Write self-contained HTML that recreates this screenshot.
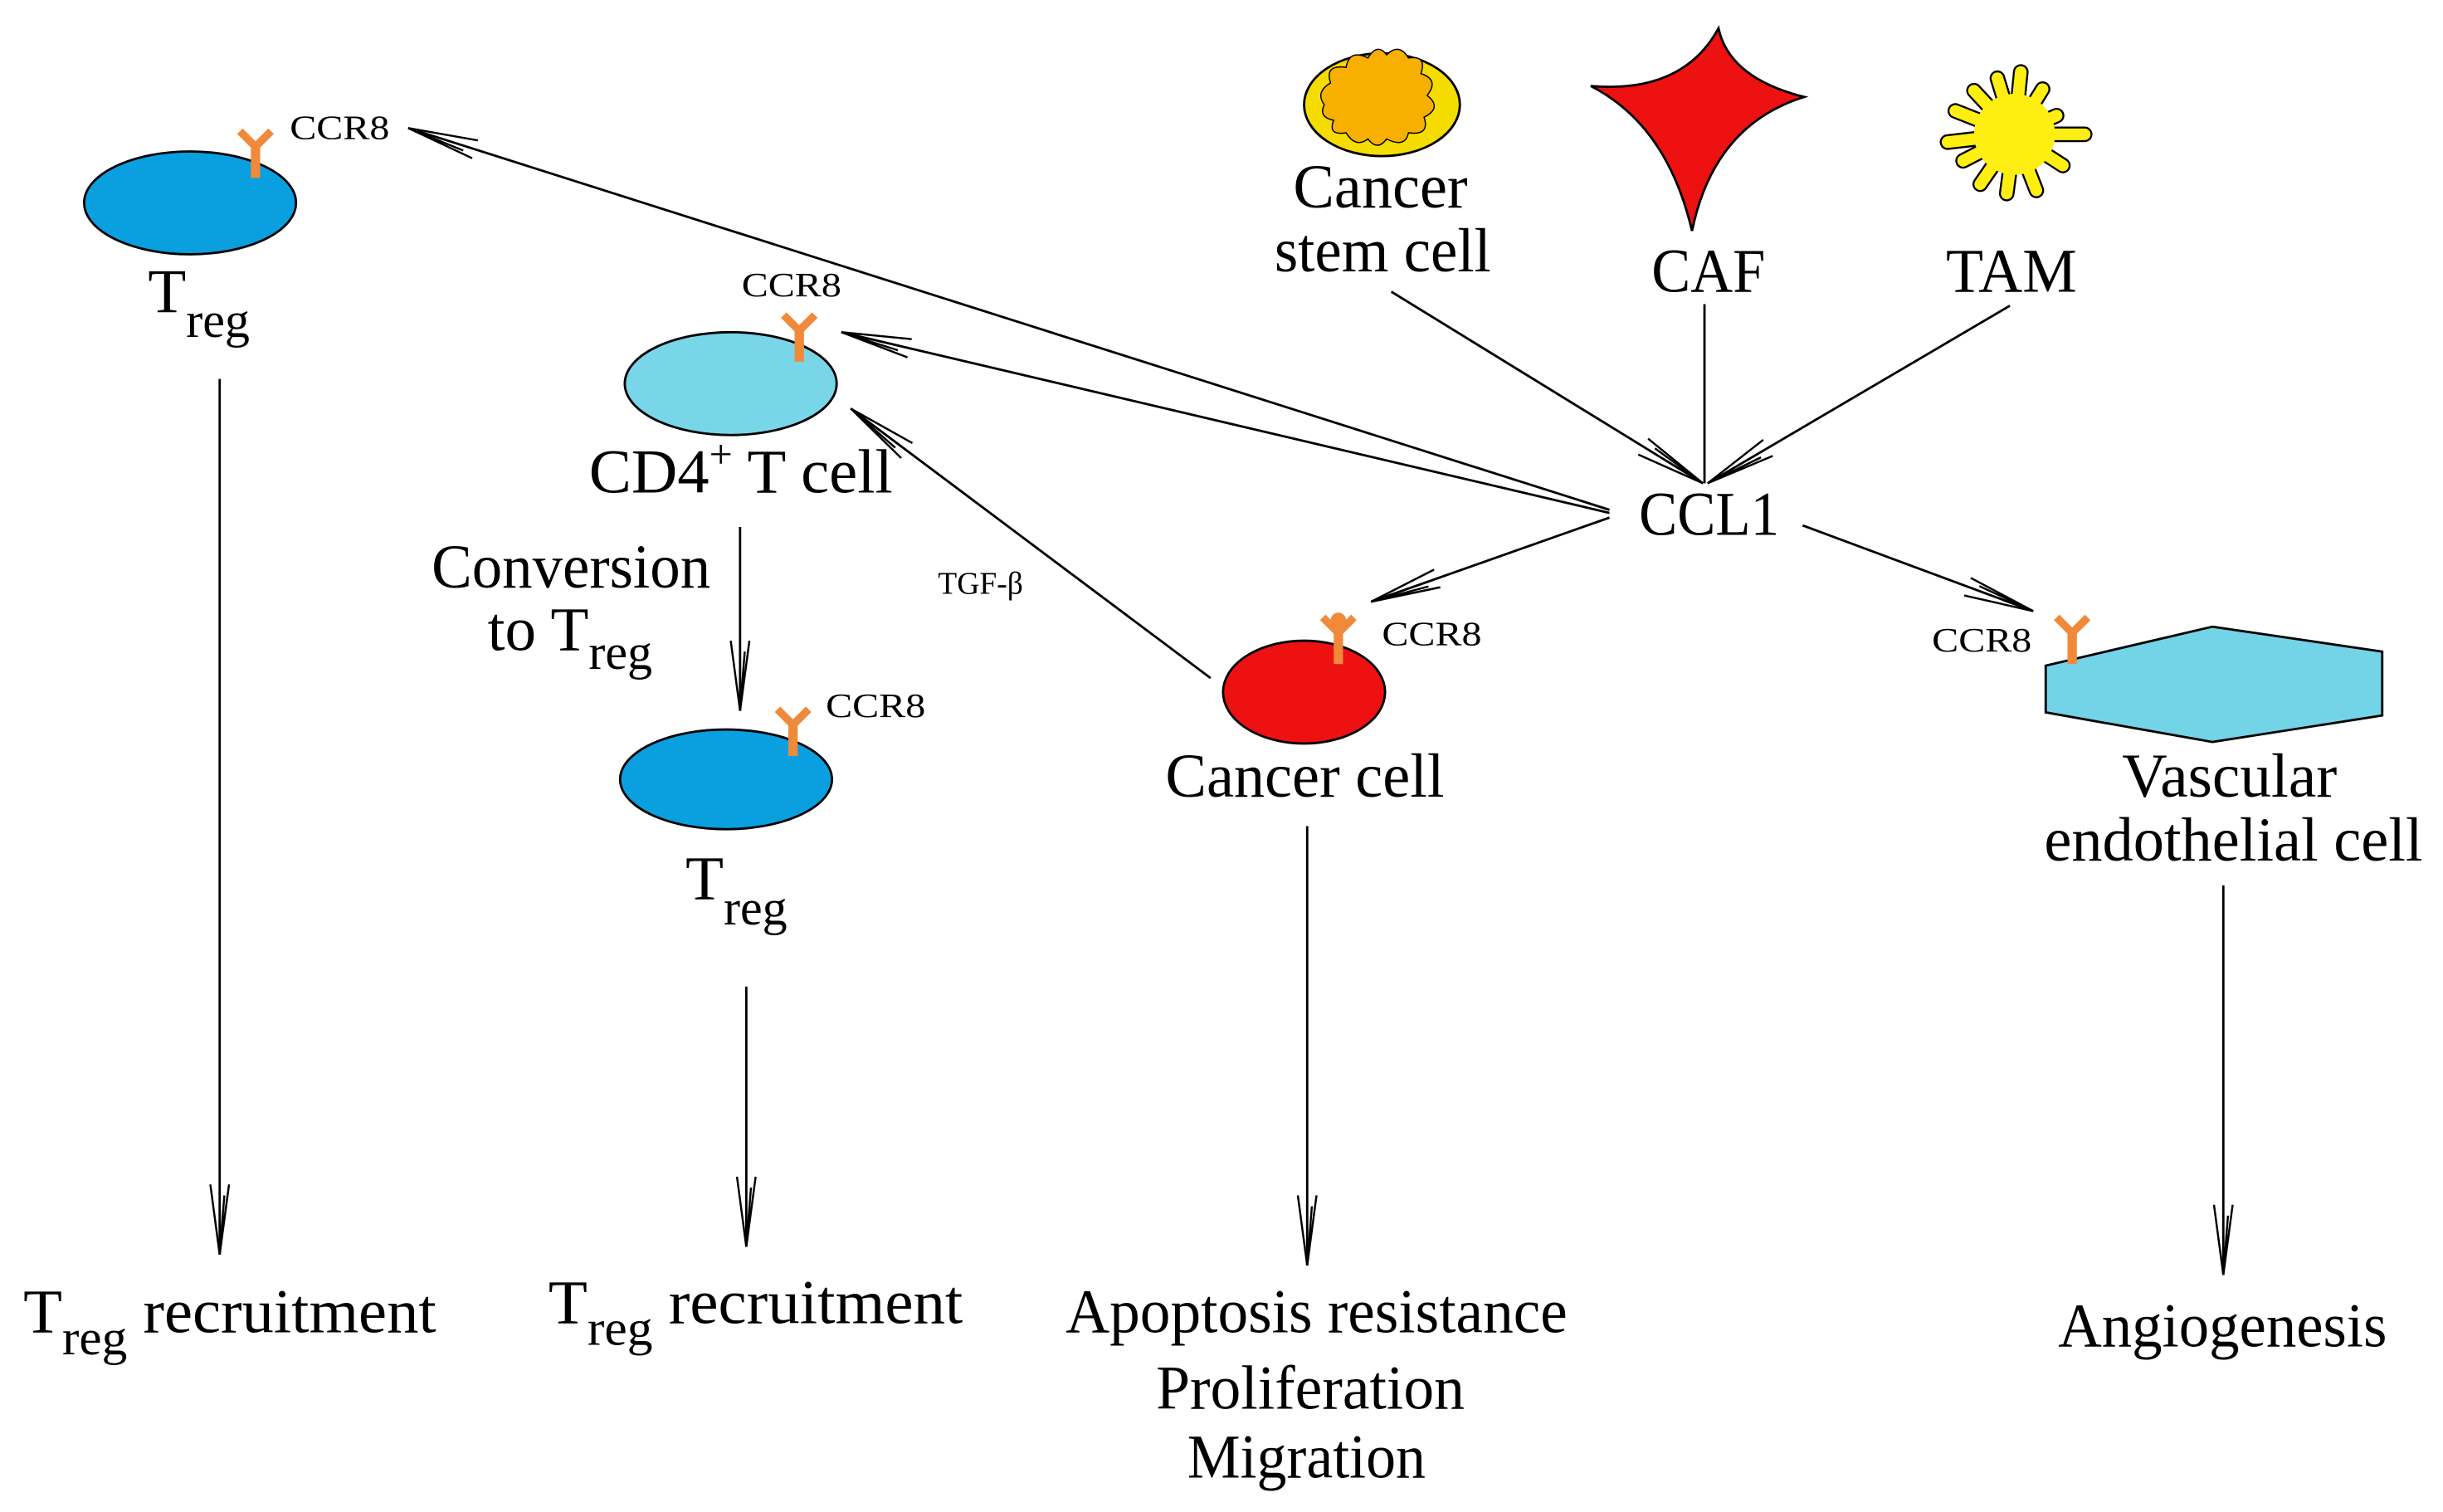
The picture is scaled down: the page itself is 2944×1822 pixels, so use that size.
<!DOCTYPE html>
<html><head><meta charset="utf-8"><style>
html,body{margin:0;padding:0;background:#fff}
svg{display:block}
text{font-family:"Liberation Serif",serif;fill:#000}
</style></head><body>
<svg width="2944" height="1822" viewBox="0 0 1568 970" xmlns="http://www.w3.org/2000/svg">
<defs>
<marker id="a" markerUnits="userSpaceOnUse" markerWidth="60" markerHeight="30" refX="0" refY="0" viewBox="-50 -15 60 30" orient="auto" overflow="visible">
<path d="M0,0 L-45,-6 M0,0 L-45,6 M0,0 L-38,-3" stroke="#000" stroke-width="1.3" fill="none"/>
</marker>
<g id="r"><rect x="-3" y="-6" width="6" height="22" fill="#f08a3a"/><path d="M-10,-14 L0,-4 L10,-14" stroke="#f08a3a" stroke-width="5" fill="none"/></g>
</defs>
<g stroke="#000" stroke-width="1.5" fill="none">
<line x1="893" y1="187" x2="1093" y2="310" marker-end="url(#a)"/>
<line x1="1094" y1="195" x2="1094" y2="310"/>
<line x1="1290" y1="196" x2="1096" y2="310" marker-end="url(#a)"/>
<line x1="1033" y1="327" x2="262" y2="82" marker-end="url(#a)"/>
<line x1="1033" y1="329" x2="540" y2="213" marker-end="url(#a)"/>
<line x1="777" y1="435" x2="546" y2="262" marker-end="url(#a)"/>
<line x1="1033" y1="332" x2="880" y2="386" marker-end="url(#a)"/>
<line x1="1157" y1="337" x2="1305" y2="392" marker-end="url(#a)"/>
<line x1="141" y1="243" x2="141" y2="805" marker-end="url(#a)"/>
<line x1="475" y1="338" x2="475" y2="456" marker-end="url(#a)"/>
<line x1="479" y1="633" x2="479" y2="800" marker-end="url(#a)"/>
<line x1="839" y1="530" x2="839" y2="812" marker-end="url(#a)"/>
<line x1="1427" y1="568" x2="1427" y2="818" marker-end="url(#a)"/>
</g>
<ellipse cx="122" cy="130" rx="68" ry="33" fill="#0a9fdf" stroke="#000" stroke-width="1.5"/>
<use href="#r" x="164" y="98"/>
<ellipse cx="469" cy="246" rx="68" ry="33" fill="#79d6e8" stroke="#000" stroke-width="1.5"/>
<use href="#r" x="513" y="216"/>
<ellipse cx="466" cy="500" rx="68" ry="32" fill="#0a9fdf" stroke="#000" stroke-width="1.5"/>
<use href="#r" x="509" y="469"/>
<ellipse cx="837" cy="444" rx="52" ry="33" fill="#ee1111" stroke="#000" stroke-width="1.5"/>
<use href="#r" x="859" y="410"/><circle cx="859" cy="398" r="5" fill="#f08a3a"/>
<polygon points="1313,427 1420,402 1529,418 1529,459 1420,476 1313,457" fill="#72d4e6" stroke="#000" stroke-width="1.5"/>
<use href="#r" x="1330" y="410"/>
<ellipse cx="887" cy="67" rx="50" ry="33" fill="#f5dc00" stroke="#000" stroke-width="1.5"/>
<path d="M850,67 q-6,-8 4,-14 q-4,-12 10,-10 q2,-12 14,-6 q6,-10 12,-2 q8,-8 14,2 q12,-2 8,10 q12,4 4,14 q10,8 -2,14 q4,12 -10,10 q-2,10 -14,4 q-6,8 -12,0 q-8,6 -14,-4 q-12,2 -8,-8 q-10,-2 -6,-10z" fill="#f7b000" stroke="#000" stroke-width="0.8"/>
<path d="M1021,55 Q1080,60 1103,18 Q1110,50 1158,62 Q1100,80 1086,148 Q1070,80 1021,55Z" fill="#ee1111" stroke="#000" stroke-width="1.5"/>
<g stroke="#000" stroke-width="10" stroke-linecap="round" fill="none">
<path d="M1293,86 L1282,50 M1293,86 L1297,46 M1293,86 L1311,57 M1293,86 L1320,74 M1293,86 L1338,86 M1293,86 L1324,106 M1293,86 L1307,122 M1293,86 L1288,124 M1293,86 L1271,118 M1293,86 L1260,103 M1293,86 L1250,91 M1293,86 L1255,71 M1293,86 L1267,58"/>
</g>
<g stroke="#ffee11" stroke-width="7.5" stroke-linecap="round" fill="none">
<path d="M1293,86 L1282,50 M1293,86 L1297,46 M1293,86 L1311,57 M1293,86 L1320,74 M1293,86 L1338,86 M1293,86 L1324,106 M1293,86 L1307,122 M1293,86 L1288,124 M1293,86 L1271,118 M1293,86 L1260,103 M1293,86 L1250,91 M1293,86 L1255,71 M1293,86 L1267,58"/>
</g>
<circle cx="1293" cy="86" r="26" fill="#ffee11"/>
<g font-size="22">
<text x="186" y="89" textLength="64" lengthAdjust="spacingAndGlyphs">CCR8</text>
<text x="476" y="190" textLength="64" lengthAdjust="spacingAndGlyphs">CCR8</text>
<text x="530" y="460" textLength="64" lengthAdjust="spacingAndGlyphs">CCR8</text>
<text x="887" y="414" textLength="64" lengthAdjust="spacingAndGlyphs">CCR8</text>
<text x="1240" y="418" textLength="64" lengthAdjust="spacingAndGlyphs">CCR8</text>
<text x="602" y="381" font-size="20">TGF-β</text>
</g>
<g font-size="40">
<text x="95" y="200">T<tspan font-size="32" dy="16">reg</tspan></text>
<text x="378" y="316" textLength="195" lengthAdjust="spacingAndGlyphs">CD4<tspan font-size="26" dy="-16">+</tspan><tspan dy="16"> T cell</tspan></text>
<text x="277" y="377" textLength="179" lengthAdjust="spacingAndGlyphs">Conversion</text>
<text x="313" y="417">to T<tspan font-size="32" dy="12">reg</tspan></text>
<text x="440" y="577">T<tspan font-size="32" dy="16">reg</tspan></text>
<text x="748" y="511" textLength="179" lengthAdjust="spacingAndGlyphs">Cancer cell</text>
<text x="830" y="133" textLength="112" lengthAdjust="spacingAndGlyphs">Cancer</text>
<text x="818" y="174" textLength="139" lengthAdjust="spacingAndGlyphs">stem cell</text>
<text x="1060" y="187" textLength="73" lengthAdjust="spacingAndGlyphs">CAF</text>
<text x="1249" y="187" textLength="84" lengthAdjust="spacingAndGlyphs">TAM</text>
<text x="1052" y="343" textLength="90" lengthAdjust="spacingAndGlyphs">CCL1</text>
<text x="1362" y="511" textLength="138" lengthAdjust="spacingAndGlyphs">Vascular</text>
<text x="1312" y="552" textLength="243" lengthAdjust="spacingAndGlyphs">endothelial cell</text>
<text x="15" y="855" textLength="265" lengthAdjust="spacingAndGlyphs">T<tspan font-size="32" dy="14">reg</tspan><tspan dy="-14"> recruitment</tspan></text>
<text x="352" y="849" textLength="266" lengthAdjust="spacingAndGlyphs">T<tspan font-size="32" dy="14">reg</tspan><tspan dy="-14"> recruitment</tspan></text>
<text x="684" y="855" textLength="322" lengthAdjust="spacingAndGlyphs">Apoptosis resistance</text>
<text x="742" y="904" textLength="198" lengthAdjust="spacingAndGlyphs">Proliferation</text>
<text x="762" y="948" textLength="153" lengthAdjust="spacingAndGlyphs">Migration</text>
<text x="1321" y="864" textLength="211" lengthAdjust="spacingAndGlyphs">Angiogenesis</text>
</g>
</svg>
</body></html>
